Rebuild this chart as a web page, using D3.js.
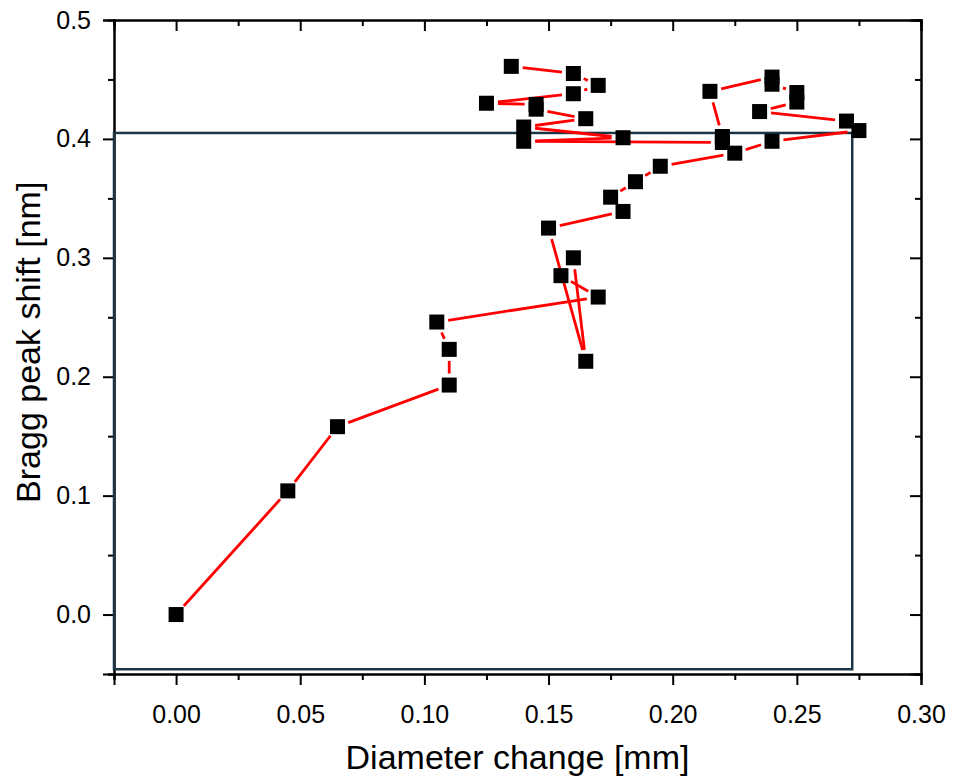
<!DOCTYPE html>
<html>
<head>
<meta charset="utf-8">
<script src="https://cdn.jsdelivr.net/npm/d3@7"></script>
<style>
    body { margin: 0; background: #fff; }
    text { font-family: "Liberation Sans", Arial, sans-serif; }
</style>
</head>
<body>
<div id="chart"></div>
<script>
// Measurements, in the order they were taken
const diameterChange = [
    0, 0.045, 0.065, 0.11, 0.11, 0.105, 0.17, 0.155, 0.16, 0.165,
    0.15, 0.18, 0.175, 0.185, 0.195, 0.225, 0.24, 0.275, 0.27, 0.235,
    0.25, 0.25, 0.24, 0.24, 0.215, 0.22, 0.22, 0.14, 0.18, 0.14,
    0.165, 0.145, 0.145, 0.125, 0.16, 0.17, 0.16, 0.135
];
const braggShift = [
    0, 0.104, 0.158, 0.193, 0.223, 0.246, 0.267, 0.285, 0.300, 0.213,
    0.325, 0.339, 0.351, 0.364, 0.377, 0.388, 0.398, 0.407, 0.415, 0.423,
    0.431, 0.439, 0.446, 0.452, 0.440, 0.402, 0.397, 0.398, 0.401, 0.410,
    0.417, 0.425, 0.429, 0.430, 0.438, 0.445, 0.455, 0.461
];

// Boxed region drawn over the plot (x0, x1 and y0, y1 in data units)
const boxX = [-0.025, 0.2723];
const boxY = [-0.046, 0.405];

const xTicks = [0, 0.05, 0.10, 0.15, 0.20, 0.25, 0.30];
const yTicks = [0, 0.1, 0.2, 0.3, 0.4, 0.5];
const xMinorTicks = [-0.025, 0.025, 0.075, 0.125, 0.175, 0.225, 0.275];
const yMinorTicks = [-0.05, 0.05, 0.15, 0.25, 0.35, 0.45];

const points = diameterChange.map((d, i) => ({ x: d, y: braggShift[i] }));

const margin = { top: 20, right: 32, bottom: 109, left: 114 };
const width = 953 - margin.left - margin.right;
const height = 783 - margin.top - margin.bottom;

const svg = d3.select('#chart')
    .append('svg')
    .attr('width', 953)
    .attr('height', 783)
    .append('g')
    .attr('transform', `translate(${margin.left},${margin.top})`);

const x = d3.scaleLinear()
    .domain([-0.025, 0.30])
    .range([0, width]);

const y = d3.scaleLinear()
    .domain([-0.05, 0.5])
    .range([height, 0]);

// bottom axis
const bottomAxis = svg.append('g')
    .attr('transform', `translate(0,${height})`)
    .call(d3.axisBottom(x).tickValues(xTicks).tickFormat(d3.format('.2f')).tickSize(11).tickPadding(20));
bottomAxis.append('g')
    .call(d3.axisBottom(x).tickValues(xMinorTicks).tickFormat('').tickSize(6));

// left axis
const leftAxis = svg.append('g')
    .call(d3.axisLeft(y).tickValues(yTicks).tickFormat(d3.format('.1f')).tickSize(11).tickPadding(12));
leftAxis.append('g')
    .call(d3.axisLeft(y).tickValues(yMinorTicks).tickFormat('').tickSize(6));

// top and right axes, ticks pointing in
const topAxis = svg.append('g')
    .call(d3.axisTop(x).tickValues(xTicks).tickFormat('').tickSize(-11));
topAxis.append('g')
    .call(d3.axisTop(x).tickValues(xMinorTicks).tickFormat('').tickSize(-6));

const rightAxis = svg.append('g')
    .attr('transform', `translate(${width},0)`)
    .call(d3.axisRight(y).tickValues(yTicks).tickFormat('').tickSize(-11));
rightAxis.append('g')
    .call(d3.axisRight(y).tickValues(yMinorTicks).tickFormat('').tickSize(-6));

svg.selectAll('.domain').attr('stroke', '#000').attr('stroke-width', 2);
svg.selectAll('.tick line').attr('stroke', '#000').attr('stroke-width', 2);
svg.selectAll('.tick text').attr('fill', '#000').style('font-size', '25px');

// boxed region
svg.append('rect')
    .attr('x', x(boxX[0]))
    .attr('y', y(boxY[1]))
    .attr('width', x(boxX[1]) - x(boxX[0]))
    .attr('height', y(boxY[0]) - y(boxY[1]))
    .attr('fill', 'none')
    .attr('stroke', '#1b3547')
    .attr('stroke-width', 2.5);

// connecting line, each segment stops short of the markers
const size = 15;
const gap = size / 2 + 4;
const segments = d3.pairs(points).map(([a, b]) => {
    const x1 = x(a.x), y1 = y(a.y), x2 = x(b.x), y2 = y(b.y);
    const len = Math.hypot(x2 - x1, y2 - y1);
    if (len <= 2 * gap) return null;
    const ux = (x2 - x1) / len, uy = (y2 - y1) / len;
    return [[x1 + ux * gap, y1 + uy * gap], [x2 - ux * gap, y2 - uy * gap]];
}).filter(s => s);

svg.selectAll('path.seg')
    .data(segments)
    .enter()
    .append('path')
    .attr('class', 'seg')
    .attr('fill', 'none')
    .attr('stroke', '#ff0000')
    .attr('stroke-width', 2.8)
    .attr('d', d3.line());

// markers
svg.selectAll('rect.pt')
    .data(points)
    .enter()
    .append('rect')
    .attr('class', 'pt')
    .attr('x', d => x(d.x) - size / 2)
    .attr('y', d => y(d.y) - size / 2)
    .attr('width', size)
    .attr('height', size)
    .attr('fill', '#000');

// axis titles
svg.append('text')
    .attr('x', x(0.1375))
    .attr('y', height + 95)
    .attr('text-anchor', 'middle')
    .style('font-size', '34px')
    .text('Diameter change [mm]');

svg.append('text')
    .attr('transform', `translate(${-74},${y(0.229)}) rotate(-90)`)
    .attr('text-anchor', 'middle')
    .style('font-size', '34px')
    .text('Bragg peak shift [nm]');
</script>
</body>
</html>
